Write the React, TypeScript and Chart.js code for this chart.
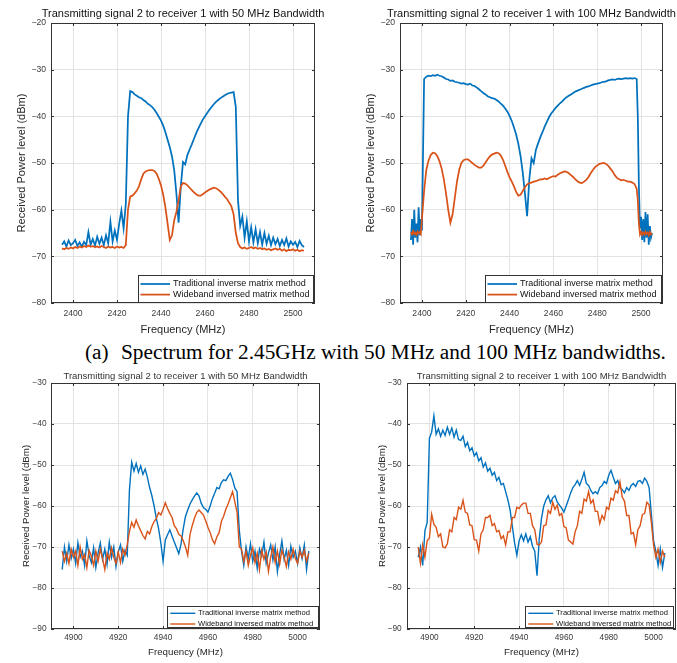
import React, { useEffect, useRef } from 'react';
import { Chart, registerables } from 'chart.js';

Chart.register(...registerables);

// ---------- shared labels / styling constants ----------
const LEGEND_LABELS = ['Traditional inverse matrix method', 'Wideband inversed matrix method'];
const X_TITLE = 'Frequency (MHz)';
const Y_TITLE = 'Received Power level (dBm)';
const TITLE_50 = 'Transmitting signal 2 to receiver 1 with 50 MHz Bandwidth';
const TITLE_100 = 'Transmitting signal 2 to receiver 1 with 100 MHz Bandwidth';
const CAPTION_TAG = '(a)';
const CAPTION_TEXT = 'Spectrum for 2.45GHz with 50 MHz and 100 MHz bandwidths.';

const X_TICKS_24 = [2400, 2420, 2440, 2460, 2480, 2500];
const X_TICKS_49 = [4900, 4920, 4940, 4960, 4980, 5000];
const Y_TICKS_TOP = [-80, -70, -60, -50, -40, -30, -20];
const Y_TICKS_BOTTOM = [-90, -80, -70, -60, -50, -40, -30];

const BLUE = '#0072BD';
const ORANGE = '#D95319';
const FONT = '"Liberation Sans", Arial, Helvetica, sans-serif';
const AXIS_COLOR = '#333333';
const GRID_COLOR = '#e3e3e3';
const TICK_COLOR = '#3a3a3a';

const range = (a: number, b: number, s: number) => {
  const out: number[] = [];
  for (let v = a; v <= b + 1e-9; v += s) out.push(Math.round(v * 10) / 10);
  return out;
};

// ---------- 2.45 GHz, 50 MHz (top-left) ----------
const FREQ_TL = range(2395, 2505, 1);
const TL_BLUE = [
  -67.5, -66.8, -67.9, -66.6, -67.6, -67.2, -66.5, -67.8, -67.0, -67.9,
  -66.9, -67.6, -64.8, -67.5, -66.3, -67.7, -65.8, -67.3, -66.0, -67.6,
  -65.5, -67.2, -62.6, -66.8, -64.5, -66.5, -63.0, -60.2, -64.0, -58.8,
  -40.0, -34.6, -34.8, -35.3, -35.6, -35.9, -36.1, -36.5, -36.8, -37.3,
  -37.6, -38.0, -38.6, -39.3, -40.1, -40.9, -42.0, -43.4, -45.0, -46.6,
  -48.6, -51.5, -56.5, -62.8, -55.0, -49.8, -50.3, -48.3, -47.1, -46.0,
  -44.8, -43.6, -42.6, -41.6, -40.7, -40.0, -39.3, -38.6, -38.0, -37.4,
  -36.9, -36.5, -36.1, -35.8, -35.5, -35.2, -35.0, -34.9, -34.8, -38.0,
  -58.0, -63.5, -61.5, -66.0, -62.5, -66.8, -63.8, -67.0, -64.2, -67.2,
  -64.8, -67.5, -65.0, -67.3, -65.6, -67.6, -66.0, -67.4, -66.3, -67.8,
  -66.5, -67.6, -66.2, -67.9, -66.8, -67.5, -66.9, -68.0, -66.7, -67.6, -68.0,
];
const TL_ORANGE = [
  -68.3, -68.5, -68.2, -68.4, -68.1, -68.3, -68.0, -68.2, -67.9, -68.1,
  -67.8, -68.0, -67.7, -67.9, -67.8, -68.0, -67.9, -68.1, -67.8, -68.0,
  -68.2, -67.9, -68.1, -68.0, -68.2, -67.9, -68.1, -68.0, -68.2, -67.6,
  -60.0, -57.2, -57.0, -56.5, -55.9, -55.0, -53.5, -52.3, -51.8, -51.6,
  -51.5, -51.5, -51.7, -52.3, -53.4, -54.8, -56.8, -59.5, -63.0, -66.5,
  -65.5, -62.3, -60.5, -58.0, -55.0, -54.3, -54.4, -54.8, -55.3, -55.8,
  -56.3, -56.7, -57.0, -57.0, -56.7, -56.3, -56.0, -55.7, -55.5, -55.3,
  -55.4, -55.7, -56.1, -56.6, -57.2, -57.7, -58.5, -59.3, -61.0, -65.0,
  -67.2, -68.0, -68.3, -68.1, -68.4, -68.2, -68.0, -68.3, -68.1, -68.4,
  -68.2, -68.5, -68.3, -68.6, -68.4, -68.7, -68.5, -68.3, -68.6, -68.4,
  -68.8, -68.5, -68.9, -68.6, -68.7, -68.5, -68.8, -68.6, -68.9, -68.7, -68.8,
];

// ---------- 2.45 GHz, 100 MHz (top-right) ----------
const FREQ_TR = [...range(2395, 2400, 0.5), ...range(2401, 2498, 1), ...range(2498.5, 2505, 0.5)];
const TR_BLUE = [
  -66.5, -62.0, -67.5, -60.0, -66.0, -63.0, -67.0, -59.5, -65.5, -62.0, -64.5,
  -32.0, -31.5, -31.3, -31.4, -31.2, -31.3, -31.1, -31.3, -31.4, -31.7,
  -32.0, -32.1, -32.4, -32.3, -32.6, -32.7, -32.8, -33.0, -32.9, -33.1,
  -33.2, -33.0, -33.4, -33.5, -33.8, -34.2, -34.6, -35.0, -35.3, -35.7,
  -35.9, -36.1, -36.2, -36.5, -36.8, -37.3, -37.7, -38.3, -39.0, -39.9,
  -41.0, -42.4, -43.9, -45.9, -48.5, -52.0, -56.5, -61.4, -53.5, -49.0,
  -50.0, -47.2, -45.8, -44.5, -43.4, -42.2, -41.2, -40.2, -39.4, -38.8,
  -38.2, -37.7, -37.2, -36.8, -36.3, -35.9, -35.6, -35.3, -35.0, -34.7,
  -34.5, -34.3, -34.1, -33.9, -33.7, -33.6, -33.4, -33.2, -33.1, -33.0,
  -32.9, -32.7, -32.6, -32.5, -32.3, -32.2, -32.1, -32.2, -32.0, -31.9,
  -32.0, -31.9, -31.8, -31.9, -31.8, -31.9, -31.8, -32.0,
  -40.0, -55.0, -64.0, -61.5, -66.5, -62.0, -67.0, -60.5, -66.0, -61.0, -67.5, -63.5, -66.0, -65.0,
];
const TR_ORANGE = [
  -64.8, -65.3, -64.6, -65.2, -64.9, -65.4, -64.7, -65.1, -64.8, -65.2, -62.0,
  -56.0, -51.5, -49.5, -48.3, -47.8, -47.9, -48.5, -49.6, -51.2, -53.5,
  -56.5, -60.0, -62.8, -61.0, -57.5, -54.0, -51.5, -50.0, -49.4, -49.2,
  -49.2, -49.6, -50.0, -50.4, -50.7, -51.0, -51.0, -50.6, -49.9, -49.2,
  -48.6, -48.2, -48.0, -47.8, -47.9, -48.4, -49.3, -50.6, -51.9, -53.1,
  -54.0, -55.0, -56.2, -57.0, -56.8, -56.0, -55.2, -54.6, -54.3, -54.2,
  -54.0, -53.9, -53.7, -53.5, -53.5, -53.3, -53.5, -53.2, -53.0, -52.8,
  -52.9, -52.5, -52.2, -52.0, -51.8, -51.9, -52.2, -52.6, -53.0, -53.5,
  -53.9, -54.2, -54.3, -54.0, -53.6, -53.0, -52.2, -51.5, -50.9, -50.5,
  -50.2, -50.1, -50.0, -50.2, -50.6, -51.2, -51.8, -52.6, -53.2, -53.5,
  -53.7, -53.6, -53.8, -54.0, -54.0, -54.2, -54.5, -55.5,
  -58.0, -63.0, -65.3, -64.8, -65.4, -64.9, -65.3, -64.7, -65.2, -64.9, -65.5, -64.8, -65.3, -65.0,
];

// ---------- 4.9 GHz, 50 MHz (bottom-left) ----------
const FREQ_BL = range(4895, 5005, 1);
const BL_BLUE = [
  -75.5, -70.0, -73.5, -69.5, -72.8, -70.5, -74.0, -69.0, -72.5, -71.0,
  -74.5, -68.5, -72.0, -73.8, -70.2, -75.0, -71.5, -69.0, -73.0, -70.5,
  -74.2, -68.8, -72.5, -70.0, -74.8, -71.2, -69.5, -73.5, -70.8, -72.0,
  -56.0, -49.3, -51.5, -49.6, -51.8, -50.2, -52.3, -51.0, -53.0, -55.5,
  -57.5, -60.0, -63.0, -65.5, -69.0, -73.5, -68.3, -67.0, -65.8, -67.3,
  -68.8, -70.2, -71.6, -69.3, -65.5, -62.5, -61.0, -59.5, -58.5, -57.6,
  -56.8, -57.5, -59.3, -60.4, -60.8, -61.5, -60.0, -58.2, -56.9, -55.5,
  -55.8, -54.3, -53.6, -53.8, -52.8, -52.0, -53.5, -55.6, -56.5, -66.0,
  -71.0, -74.5, -70.0, -72.8, -69.2, -73.5, -71.0, -75.2, -70.5, -72.2,
  -68.8, -74.0, -71.5, -69.5, -73.2, -70.0, -76.0, -71.8, -68.5, -73.0,
  -70.8, -74.5, -69.8, -72.5, -71.0, -74.0, -70.2, -72.8, -69.5, -75.5, -71.0,
];
const BL_ORANGE = [
  -71.0, -73.5, -71.5, -74.0, -70.5, -72.5, -71.0, -74.5, -70.0, -73.0,
  -71.8, -75.0, -70.8, -72.2, -74.5, -71.0, -73.5, -70.5, -72.8, -75.5,
  -71.5, -73.0, -70.2, -72.5, -74.0, -71.2, -73.8, -70.5, -72.0, -69.5,
  -66.2, -64.0, -65.2, -63.4, -64.8, -66.0, -67.2, -68.0, -66.2, -66.8,
  -65.0, -63.8, -63.0, -61.6, -62.2, -60.8, -59.2, -60.6, -61.8, -62.8,
  -64.8, -65.6, -66.9, -67.3, -68.5, -70.0, -72.0, -67.0, -64.8, -63.0,
  -61.6, -61.0, -61.6, -62.2, -63.6, -65.2, -66.5, -68.2, -69.2, -67.5,
  -66.5, -63.8, -62.5, -60.8, -59.5, -58.0, -56.5, -59.0, -61.5, -70.0,
  -70.5, -73.5, -71.0, -74.5, -72.0, -70.2, -73.8, -71.5, -75.5, -70.8,
  -73.0, -71.2, -76.0, -72.5, -70.0, -73.8, -71.0, -74.2, -70.8, -72.5,
  -74.8, -71.2, -73.0, -70.5, -72.8, -74.0, -71.0, -72.5, -70.8, -73.5, -71.5,
];

// ---------- 4.9 GHz, 100 MHz (bottom-right) ----------
const FREQ_BR = range(4895, 5005, 1);
const BR_BLUE = [
  -72.5, -70.0, -74.5, -66.0, -64.0, -43.5, -42.0, -38.0, -42.5, -41.2,
  -43.0, -41.5, -42.8, -40.8, -42.5, -41.0, -43.2, -41.5, -43.8, -44.0,
  -43.0, -45.5, -44.5, -46.5, -45.8, -47.8, -47.0, -49.0, -48.2, -50.5,
  -49.5, -51.5, -50.8, -52.5, -51.8, -53.8, -53.0, -54.8, -54.5, -56.5,
  -58.5, -61.0, -65.0, -69.0, -72.0, -68.5, -67.0, -68.5, -66.8, -68.8,
  -67.5, -69.8, -71.0, -77.0, -68.0, -63.0, -60.0, -58.5, -57.5, -59.2,
  -58.0, -57.5, -59.0, -59.8, -60.5, -61.5, -60.0, -58.5, -56.8, -55.5,
  -54.8, -53.8, -55.0, -53.5, -51.8, -54.5, -55.0, -56.2, -57.0, -56.5,
  -57.0, -55.5, -55.0, -54.0, -54.5, -52.5, -51.3, -53.0, -54.5, -53.8,
  -55.5, -56.0, -56.8, -55.5, -56.2, -55.0, -54.5, -55.2, -54.0, -53.8,
  -54.5, -53.2, -54.0, -55.5, -62.0, -68.5, -71.0, -74.5, -70.5, -75.0, -71.5,
];
const BR_ORANGE = [
  -70.0, -74.0, -69.5, -72.5, -68.5, -67.8, -62.0, -64.5, -65.2, -67.5,
  -66.8, -70.0, -70.2, -69.2, -65.8, -66.3, -62.8, -63.3, -60.3, -60.8,
  -58.6, -61.5, -61.8, -64.6, -64.8, -68.2, -68.3, -71.0, -66.8, -65.8,
  -62.8, -62.8, -62.3, -64.8, -64.3, -66.3, -66.0, -68.0, -67.3, -69.5,
  -66.3, -66.3, -62.8, -62.8, -60.3, -60.6, -59.8, -59.3, -59.3, -61.8,
  -61.8, -64.8, -65.8, -69.3, -69.5, -68.8, -64.8, -64.6, -61.1, -61.8,
  -59.1, -60.8, -59.8, -62.3, -61.8, -65.0, -65.3, -68.3, -68.8, -69.3,
  -66.3, -64.8, -61.3, -61.8, -58.3, -58.8, -56.5, -59.3, -58.5, -61.3,
  -61.3, -64.3, -62.3, -63.3, -60.3, -60.8, -58.1, -58.6, -56.3, -56.8,
  -54.1, -57.8, -58.8, -62.3, -62.3, -66.8, -66.5, -69.4, -65.8, -64.8,
  -62.1, -61.8, -59.1, -59.7, -64.0, -69.5, -72.5, -70.5, -73.8, -71.0, -72.5,
];

// ---------- panel layout ----------
type LegendCfg = {
  font: number; w: number; h: number; lineFrom: number; lineTo: number;
  textX: number; rows: number[]; rightInset: number; bottomInset: number;
};
type Panel = {
  left: number; top: number; width: number; height: number;
  area: { l: number; t: number; r: number; b: number };
  freq: number[]; blue: number[]; orange: number[];
  xMin: number; xMax: number; yMin: number; yMax: number;
  xTicks: number[]; yTicks: number[];
  title: string; titleY: number; titleFont: number; titleColor: string;
  tickFont: number; labelFont: number;
  yTitlePad: number; yTickPad: number; xTickPad: number; xTitlePad: number;
  lineWidth: number; legend: LegendCfg;
};

const TOP_LEGEND: LegendCfg = { font: 9, w: 176, h: 28, lineFrom: 2.5, lineTo: 32, textX: 35, rows: [9, 19.6], rightInset: 1, bottomInset: 0 };
const BOTTOM_LEGEND: LegendCfg = { font: 7.6, w: 150, h: 22, lineFrom: 3.3, lineTo: 28.3, textX: 31, rows: [7.3, 18], rightInset: 1, bottomInset: 1 };

const PANELS: Panel[] = [
  {
    left: 0, top: 0, width: 338, height: 338, area: { l: 51, t: 23, r: 315, b: 303 },
    freq: FREQ_TL, blue: TL_BLUE, orange: TL_ORANGE,
    xMin: 2390, xMax: 2510, yMin: -80, yMax: -20, xTicks: X_TICKS_24, yTicks: Y_TICKS_TOP,
    title: TITLE_50, titleY: 14, titleFont: 11, titleColor: '#111',
    tickFont: 8.6, labelFont: 11, yTitlePad: 15, yTickPad: 5, xTickPad: 5, xTitlePad: 1.4,
    lineWidth: 1.75, legend: TOP_LEGEND,
  },
  {
    left: 338, top: 0, width: 339, height: 338, area: { l: 62, t: 23, r: 325, b: 303 },
    freq: FREQ_TR, blue: TR_BLUE, orange: TR_ORANGE,
    xMin: 2390, xMax: 2510, yMin: -80, yMax: -20, xTicks: X_TICKS_24, yTicks: Y_TICKS_TOP,
    title: TITLE_100, titleY: 14, titleFont: 11, titleColor: '#111',
    tickFont: 8.6, labelFont: 11, yTitlePad: 26.4, yTickPad: 5, xTickPad: 5, xTitlePad: 1.4,
    lineWidth: 1.75, legend: { ...TOP_LEGEND, w: 177 },
  },
  {
    left: 0, top: 366, width: 338, height: 297, area: { l: 51, t: 17, r: 320, b: 263 },
    freq: FREQ_BL, blue: BL_BLUE, orange: BL_ORANGE,
    xMin: 4890, xMax: 5010, yMin: -90, yMax: -30, xTicks: X_TICKS_49, yTicks: Y_TICKS_BOTTOM,
    title: TITLE_50, titleY: 10, titleFont: 9.5, titleColor: '#333',
    tickFont: 8.3, labelFont: 9.7, yTitlePad: 20.4, yTickPad: 4.5, xTickPad: 4, xTitlePad: 4.7,
    lineWidth: 1.4, legend: { ...BOTTOM_LEGEND, w: 152 },
  },
  {
    left: 338, top: 366, width: 339, height: 297, area: { l: 69, t: 17, r: 338, b: 263 },
    freq: FREQ_BR, blue: BR_BLUE, orange: BR_ORANGE,
    xMin: 4890, xMax: 5010, yMin: -90, yMax: -30, xTicks: X_TICKS_49, yTicks: Y_TICKS_BOTTOM,
    title: TITLE_100, titleY: 10, titleFont: 9.5, titleColor: '#333',
    tickFont: 8.3, labelFont: 9.7, yTitlePad: 38.4, yTickPad: 5.3, xTickPad: 4, xTitlePad: 4.7,
    lineWidth: 1.4, legend: { ...BOTTOM_LEGEND, w: 149, rightInset: 2 },
  },
];

const toPoints = (f: number[], v: number[]) => {
  const n = Math.min(f.length, v.length);
  const pts: { x: number; y: number }[] = [];
  for (let i = 0; i < n; i++) pts.push({ x: f[i], y: v[i] });
  return pts;
};

const fmtTick = (v: number) => (v < 0 ? '\u2212' + Math.abs(v) : String(v));

function makeFramePlugin(p: Panel) {
  return {
    id: 'matlabFrame',
    afterDraw(chart: any) {
      const { ctx, chartArea: a, scales } = chart;
      const xs = scales.x;
      const ys = scales.y;
      const TICK = 3;
      ctx.save();
      ctx.strokeStyle = AXIS_COLOR;
      ctx.lineWidth = 1;
      ctx.beginPath();
      for (const v of p.xTicks) {
        const x = Math.round(xs.getPixelForValue(v)) + 0.5;
        ctx.moveTo(x, a.bottom); ctx.lineTo(x, a.bottom - TICK);
        ctx.moveTo(x, a.top); ctx.lineTo(x, a.top + TICK);
      }
      for (const v of p.yTicks) {
        const y = Math.round(ys.getPixelForValue(v)) + 0.5;
        ctx.moveTo(a.left, y); ctx.lineTo(a.left + TICK, y);
        ctx.moveTo(a.right, y); ctx.lineTo(a.right - TICK, y);
      }
      ctx.stroke();
      ctx.strokeRect(Math.round(a.left) + 0.5, Math.round(a.top) + 0.5,
        Math.round(a.right - a.left) - 1, Math.round(a.bottom - a.top) - 1);

      // legend (inside, lower right)
      const L = p.legend;
      ctx.font = `${L.font}px ${FONT}`;
      const tw = Math.max(...LEGEND_LABELS.map((t) => ctx.measureText(t).width));
      const w = Math.max(L.w, L.textX + tw + 3);
      const bx = Math.round(a.right - L.rightInset - w);
      const by = Math.round(a.bottom - L.bottomInset - L.h);
      ctx.fillStyle = '#ffffff';
      ctx.fillRect(bx, by, w, L.h);
      ctx.strokeStyle = AXIS_COLOR;
      ctx.lineWidth = 1;
      ctx.strokeRect(bx + 0.5, by + 0.5, Math.round(w) - 1, L.h - 1);
      const colors = [BLUE, ORANGE];
      LEGEND_LABELS.forEach((label, i) => {
        const y = by + L.rows[i];
        ctx.strokeStyle = colors[i];
        ctx.lineWidth = p.lineWidth;
        ctx.beginPath();
        ctx.moveTo(bx + L.lineFrom, y);
        ctx.lineTo(bx + L.lineTo, y);
        ctx.stroke();
        ctx.fillStyle = '#111';
        ctx.textAlign = 'left';
        ctx.textBaseline = 'middle';
        ctx.fillText(label, bx + L.textX, y);
      });

      // title
      ctx.font = `${p.titleFont}px ${FONT}`;
      ctx.fillStyle = p.titleColor;
      ctx.textAlign = 'center';
      ctx.textBaseline = 'middle';
      ctx.fillText(p.title, (a.left + a.right) / 2, p.titleY);
      ctx.restore();
    },
  };
}

function SpectrumChart({ p }: { p: Panel }) {
  const ref = useRef<HTMLCanvasElement>(null);
  useEffect(() => {
    const canvas = ref.current;
    if (!canvas) return;
    const chart = new Chart(canvas, {
      type: 'line',
      data: {
        datasets: [
          {
            label: LEGEND_LABELS[0], data: toPoints(p.freq, p.blue),
            borderColor: BLUE, backgroundColor: BLUE, borderWidth: p.lineWidth,
            pointRadius: 0, tension: 0, fill: false, order: 1,
          },
          {
            label: LEGEND_LABELS[1], data: toPoints(p.freq, p.orange),
            borderColor: ORANGE, backgroundColor: ORANGE, borderWidth: p.lineWidth,
            pointRadius: 0, tension: 0, fill: false, order: 0,
          },
        ],
      },
      options: {
        responsive: false,
        maintainAspectRatio: false,
        animation: false,
        devicePixelRatio: 1,
        events: [],
        layout: { padding: { left: 0, top: p.area.t, right: p.width - p.area.r, bottom: 0 } },
        plugins: {
          legend: { display: false },
          tooltip: { enabled: false },
          title: { display: false },
        },
        scales: {
          x: {
            type: 'linear',
            min: p.xMin,
            max: p.xMax,
            afterFit: (s: any) => { s.height = p.height - p.area.b; },
            afterBuildTicks: (s: any) => { s.ticks = p.xTicks.map((v) => ({ value: v })); },
            ticks: {
              autoSkip: false, maxRotation: 0, padding: p.xTickPad, color: TICK_COLOR,
              font: { family: FONT, size: p.tickFont },
              callback: (v: any) => fmtTick(Number(v)),
            },
            grid: { color: GRID_COLOR, lineWidth: 1, drawTicks: false },
            border: { display: false },
            title: {
              display: true, text: X_TITLE, color: '#262626',
              font: { family: FONT, size: p.labelFont },
              padding: { top: 0, bottom: p.xTitlePad },
            },
          },
          y: {
            type: 'linear',
            min: p.yMin,
            max: p.yMax,
            afterFit: (s: any) => { s.width = p.area.l; },
            afterBuildTicks: (s: any) => { s.ticks = p.yTicks.map((v) => ({ value: v })); },
            ticks: {
              autoSkip: false, padding: p.yTickPad, color: TICK_COLOR,
              font: { family: FONT, size: p.tickFont },
              callback: (v: any) => fmtTick(Number(v)),
            },
            grid: { color: GRID_COLOR, lineWidth: 1, drawTicks: false },
            border: { display: false },
            title: {
              display: true, text: Y_TITLE, color: '#262626',
              font: { family: FONT, size: p.labelFont },
              padding: { top: p.yTitlePad, bottom: 0 },
            },
          },
        },
      } as any,
      plugins: [makeFramePlugin(p)],
    });
    return () => chart.destroy();
  }, [p]);
  return (
    <canvas
      ref={ref}
      width={p.width}
      height={p.height}
      style={{ position: 'absolute', left: p.left, top: p.top, width: p.width, height: p.height }}
    />
  );
}

export default function App() {
  const captionStyle: React.CSSProperties = {
    position: 'absolute', top: 342, lineHeight: '21px', fontSize: 21.3,
    fontFamily: '"Liberation Serif", "Times New Roman", serif', color: '#000', whiteSpace: 'pre',
  };
  return (
    <div style={{ position: 'absolute', left: 0, top: 0, width: 677, height: 663, background: '#ffffff', overflow: 'hidden' }}>
      {PANELS.map((p, i) => (
        <SpectrumChart key={i} p={p} />
      ))}
      <div style={{ ...captionStyle, left: 85 }}>{CAPTION_TAG}</div>
      <div style={{ ...captionStyle, left: 121 }}>{CAPTION_TEXT}</div>
    </div>
  );
}
